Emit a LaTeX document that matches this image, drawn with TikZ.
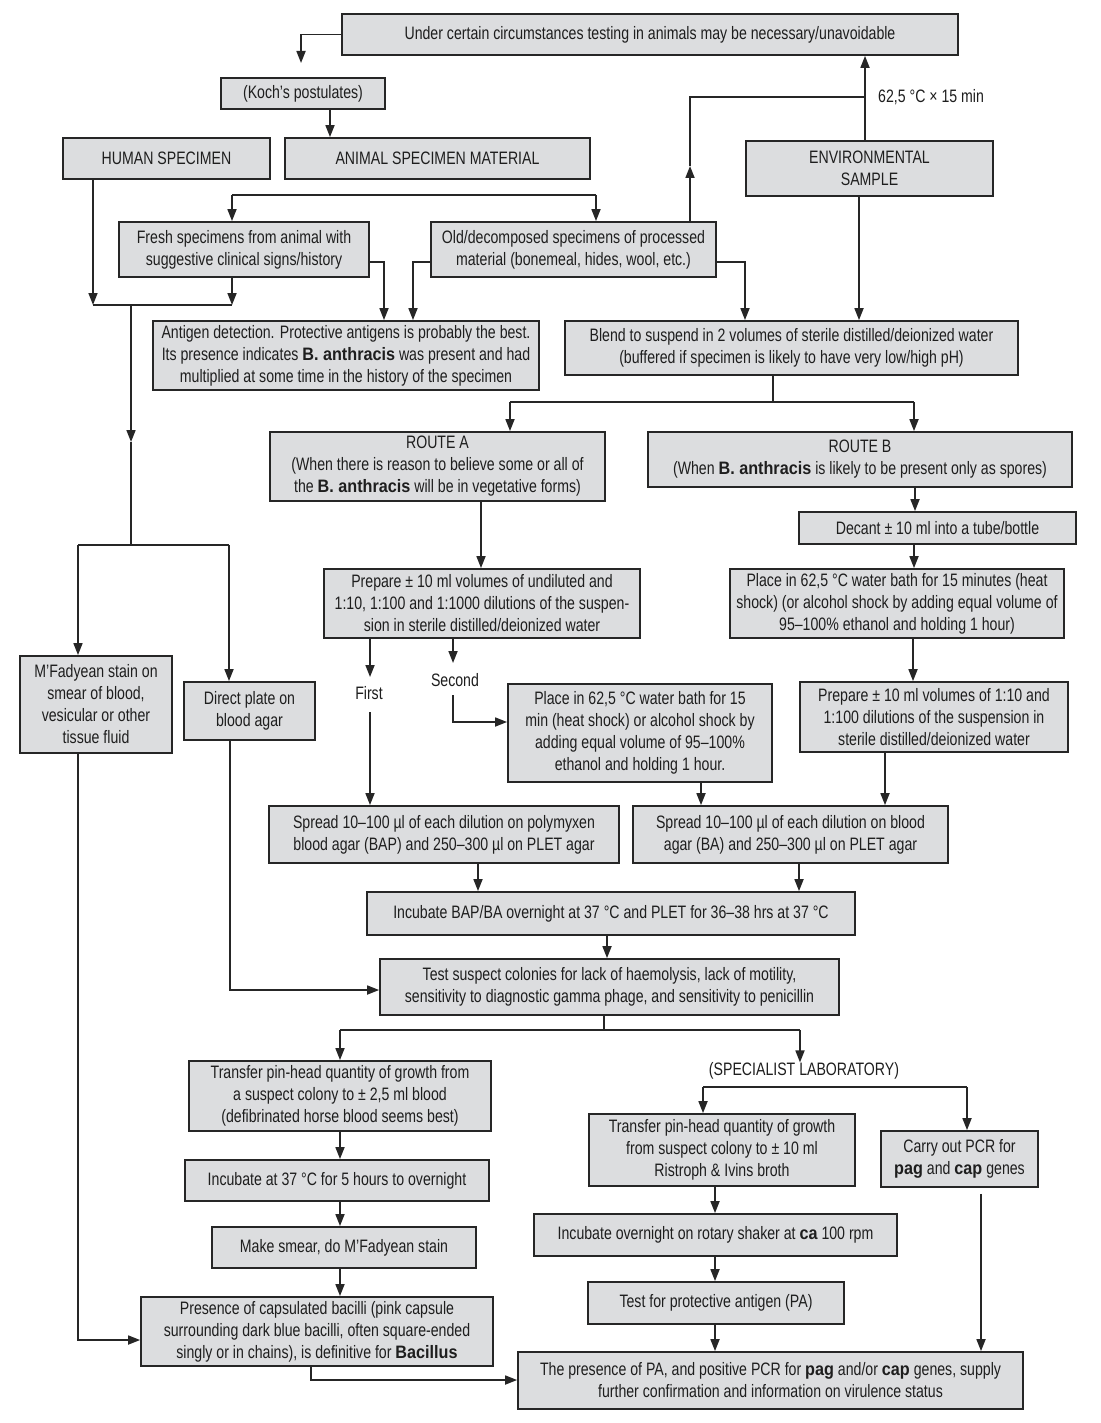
\documentclass[tikz,border=0pt]{standalone}
\usepackage{fontspec}
\setmainfont{Liberation Sans}[FakeStretch=0.785]
\newfontfamily\spfam{Liberation Sans}[FakeStretch=0.9]
\newcommand\bsp[1]{{\spfam\bfseries #1}}
\usetikzlibrary{arrows.meta,calc}
\definecolor{boxfill}{HTML}{DCDDDF}
\definecolor{linec}{HTML}{262626}
\definecolor{txt}{HTML}{1E1E1E}
\newcommand\fs{\fontsize{18}{22}\selectfont}
\tikzset{
 box/.style={draw=linec, fill=boxfill, line width=1.8pt, inner sep=1pt, align=center, font=\fs, text=txt},
 lbl/.style={font=\fs, text=txt, inner sep=0pt},
 conn/.style={draw=linec, line width=1.7pt},
 arr/.style={conn, -{Triangle[length=12pt,width=9pt]}},
}
\newcommand\bx[6]{\node[box, minimum width={#4pt-#2pt}, minimum height={#5pt-#3pt}] (#1) at ({(#2+#4)/2},{(#3+#5)/2+1}) {#6};}
\begin{document}
\begin{tikzpicture}[x=1pt,y=-1pt]
\fill[white] (0,0) rectangle (1100,1423);
\useasboundingbox (0,0) rectangle (1100,1423);
\bx{Top}{342}{13}{958}{54}{Under certain circumstances testing in animals may be necessary/unavoidable}
\bx{Koch}{221}{77}{385}{108}{(Koch’s postulates)}
\bx{Human}{63}{137}{270}{178}{HUMAN SPECIMEN}
\bx{Animal}{285}{137}{590}{178}{ANIMAL SPECIMEN MATERIAL}
\bx{Env}{746}{140}{993}{195}{ENVIRONMENTAL\\SAMPLE}
\bx{Fresh}{119}{221}{369}{276}{Fresh specimens from animal with\\suggestive clinical signs/history}
\bx{Old}{431}{221}{716}{276}{Old/decomposed specimens of processed\\material (bonemeal, hides, wool, etc.)}
\bx{Antigen}{153}{320}{539}{389}{Antigen detection. Protective antigens is probably the best.\\Its presence indicates \bsp{B. anthracis} was present and had\\multiplied at some time in the history of the specimen}
\bx{Blend}{565}{320}{1018}{374}{Blend to suspend in 2 volumes of sterile distilled/deionized water\\(buffered if specimen is likely to have very low/high pH)}
\bx{RA}{270}{431}{605}{500}{ROUTE A\\(When there is reason to believe some or all of\\the \bsp{B. anthracis} will be in vegetative forms)}
\bx{RB}{648}{431}{1072}{486}{ROUTE B\\(When \bsp{B. anthracis} is likely to be present only as spores)}
\bx{Dec}{799}{511}{1076}{543}{Decant ± 10 ml into a tube/bottle}
\bx{PB}{730}{568}{1064}{637}{Place in 62,5 °C water bath for 15 minutes (heat\\shock) (or alcohol shock by adding equal volume of\\95–100\% ethanol and holding 1 hour)}
\bx{PA}{324}{568}{640}{637}{Prepare ± 10 ml volumes of undiluted and\\1:10, 1:100 and 1:1000 dilutions of the suspen-\\sion in sterile distilled/deionized water}
\bx{MF}{20}{655}{172}{752}{M’Fadyean stain on\\smear of blood,\\vesicular or other\\tissue fluid}
\bx{DP}{184}{681}{315}{739}{Direct plate on\\blood agar}
\bx{PlA}{508}{683}{772}{781}{Place in 62,5 °C water bath for 15\\min (heat shock) or alcohol shock by\\adding equal volume of 95–100\%\\ethanol and holding 1 hour.}
\bx{PrB}{800}{681}{1068}{751}{Prepare ± 10 ml volumes of 1:10 and\\1:100 dilutions of the suspension in\\sterile distilled/deionized water}
\bx{SA}{269}{805}{619}{862}{Spread 10–100 µl of each dilution on polymyxen\\blood agar (BAP) and 250–300 µl on PLET agar}
\bx{SB}{633}{805}{948}{862}{Spread 10–100 µl of each dilution on blood\\agar (BA) and 250–300 µl on PLET agar}
\bx{Inc}{367}{891}{855}{934}{Incubate BAP/BA overnight at 37 °C and PLET for 36–38 hrs at 37 °C}
\bx{Test}{380}{958}{839}{1014}{Test suspect colonies for lack of haemolysis, lack of motility,\\sensitivity to diagnostic gamma phage, and sensitivity to penicillin}
\bx{TA}{189}{1060}{491}{1130}{Transfer pin-head quantity of growth from\\a suspect colony to ± 2,5 ml blood\\(defibrinated horse blood seems best)}
\bx{TB}{589}{1113}{855}{1185}{Transfer pin-head quantity of growth\\from suspect colony to ± 10 ml\\Ristroph \& Ivins broth}
\bx{PCR}{881}{1130}{1038}{1186}{Carry out PCR for\\\bsp{pag} and \bsp{cap} genes}
\bx{I37}{185}{1159}{489}{1200}{Incubate at 37 °C for 5 hours to overnight}
\bx{MS}{212}{1226}{476}{1267}{Make smear, do M’Fadyean stain}
\bx{Rot}{534}{1213}{897}{1255}{Incubate overnight on rotary shaker at \bsp{ca} 100 rpm}
\bx{TPA}{588}{1281}{844}{1323}{Test for protective antigen (PA)}
\bx{Pres}{141}{1296}{493}{1365}{Presence of capsulated bacilli (pink capsule\\surrounding dark blue bacilli, often square-ended\\singly or in chains), is definitive for \bsp{Bacillus}}
\bx{Fin}{518}{1351}{1023}{1408}{The presence of PA, and positive PCR for \bsp{pag} and/or \bsp{cap} genes, supply\\further confirmation and information on virulence status}
% labels
\node[lbl, anchor=west] (temp) at (878,97) {62,5 °C × 15 min};
\node[lbl] (first) at (369,693) {First};
\node[lbl] (second) at (455,680) {Second};
\node[lbl] (spec) at (804,1071) {(SPECIALIST LABORATORY)};
% coordinates
\coordinate (kin) at (301,63);
\coordinate (hj1) at (690,97);
\coordinate (hj2) at (865,97);
\coordinate (hmid) at (690,166);
\coordinate (ab1) at (232,195);
\coordinate (ab2) at (596,195);
\coordinate (hj) at (93,305);
\coordinate (fj) at (232,305);
\coordinate (hm) at (131,305);
\coordinate (hm2) at (131,442);
\coordinate (hs) at (131,545);
\coordinate (hs1) at (78,545);
\coordinate (hs2) at (229,545);
\coordinate (bs) at (773,402);
\coordinate (bs1) at (510,402);
\coordinate (bs2) at (914,402);
\coordinate (f1) at (370,677);
\coordinate (f2) at (370,712);
\coordinate (s1) at (453,663);
\coordinate (s2) at (453,695);
\coordinate (ts) at (604,1030);
\coordinate (ts1) at (340,1030);
\coordinate (ts2) at (800,1030);
\coordinate (sp1) at (703,1087);
\coordinate (sp2) at (967,1087);
% connectors
\draw[arr] (Top.west) -| (kin);
\draw[arr] (330,0 |- Koch.south) -- (330,0 |- Animal.north);
\draw[arr] (865,0 |- Env.north) -- (865,0 |- Top.south);
\draw[arr] (690,0 |- Old.north) -- (hmid);
\draw[conn] (hmid) -- (hj1) -- (hj2);
\draw[conn] (ab1) -- (ab2);
\draw[arr] (ab1) -- (ab1 |- Fresh.north);
\draw[arr] (ab2) -- (ab2 |- Old.north);
\draw[arr] (93,0 |- Human.south) -- (hj);
\draw[arr] (232,0 |- Fresh.south) -- (fj);
\draw[conn] (hj) -- (fj);
\draw[arr] (hm) -- (hm2);
\draw[conn] (hm2) -- (hs);
\draw[conn] (hs1) -- (hs2);
\draw[arr] (hs1) -- (hs1 |- MF.north);
\draw[arr] (hs2) -- (hs2 |- DP.north);
\draw[arr] (Fresh.east |- 0,262) -| (384,0 |- Antigen.north);
\draw[arr] (Old.west |- 0,262) -| (413,0 |- Antigen.north);
\draw[arr] (Old.east |- 0,262) -| (745,0 |- Blend.north);
\draw[arr] (859,0 |- Env.south) -- (859,0 |- Blend.north);
\draw[conn] (773,0 |- Blend.south) -- (bs);
\draw[conn] (bs1) -- (bs2);
\draw[arr] (bs1) -- (bs1 |- RA.north);
\draw[arr] (bs2) -- (bs2 |- RB.north);
\draw[arr] (481,0 |- RA.south) -- (481,0 |- PA.north);
\draw[arr] (915,0 |- RB.south) -- (915,0 |- Dec.north);
\draw[arr] (914,0 |- Dec.south) -- (914,0 |- PB.north);
\draw[arr] (913,0 |- PB.south) -- (913,0 |- PrB.north);
\draw[arr] (370,0 |- PA.south) -- (f1);
\draw[arr] (f2) -- (f2 |- SA.north);
\draw[arr] (453,0 |- PA.south) -- (s1);
\draw[arr] (s2) |- (PlA.west |- 0,722);
\draw[arr] (701,0 |- PlA.south) -- (701,0 |- SB.north);
\draw[arr] (885,0 |- PrB.south) -- (885,0 |- SB.north);
\draw[arr] (478,0 |- SA.south) -- (478,0 |- Inc.north);
\draw[arr] (799,0 |- SB.south) -- (799,0 |- Inc.north);
\draw[arr] (607,0 |- Inc.south) -- (607,0 |- Test.north);
\draw[arr] (230,0 |- DP.south) |- (Test.west |- 0,990);
\draw[arr] (78,0 |- MF.south) |- (Pres.west |- 0,1340);
\draw[conn] (604,0 |- Test.south) -- (ts);
\draw[conn] (ts1) -- (ts2);
\draw[arr] (ts1) -- (ts1 |- TA.north);
\draw[arr] (ts2) -- (ts2 |- spec.north);
\draw[conn] (sp1) -- (sp2);
\draw[arr] (sp1) -- (sp1 |- TB.north);
\draw[arr] (sp2) -- (sp2 |- PCR.north);
\draw[arr] (340,0 |- TA.south) -- (340,0 |- I37.north);
\draw[arr] (340,0 |- I37.south) -- (340,0 |- MS.north);
\draw[arr] (340,0 |- MS.south) -- (340,0 |- Pres.north);
\draw[arr] (715,0 |- TB.south) -- (715,0 |- Rot.north);
\draw[arr] (715,0 |- Rot.south) -- (715,0 |- TPA.north);
\draw[arr] (715,0 |- TPA.south) -- (715,0 |- Fin.north);
\draw[arr, shorten <=6pt] (981,0 |- PCR.south) -- (981,0 |- Fin.north);
\draw[arr] (311,0 |- Pres.south) |- (Fin.west |- 0,1380);
\end{tikzpicture}
\end{document}
